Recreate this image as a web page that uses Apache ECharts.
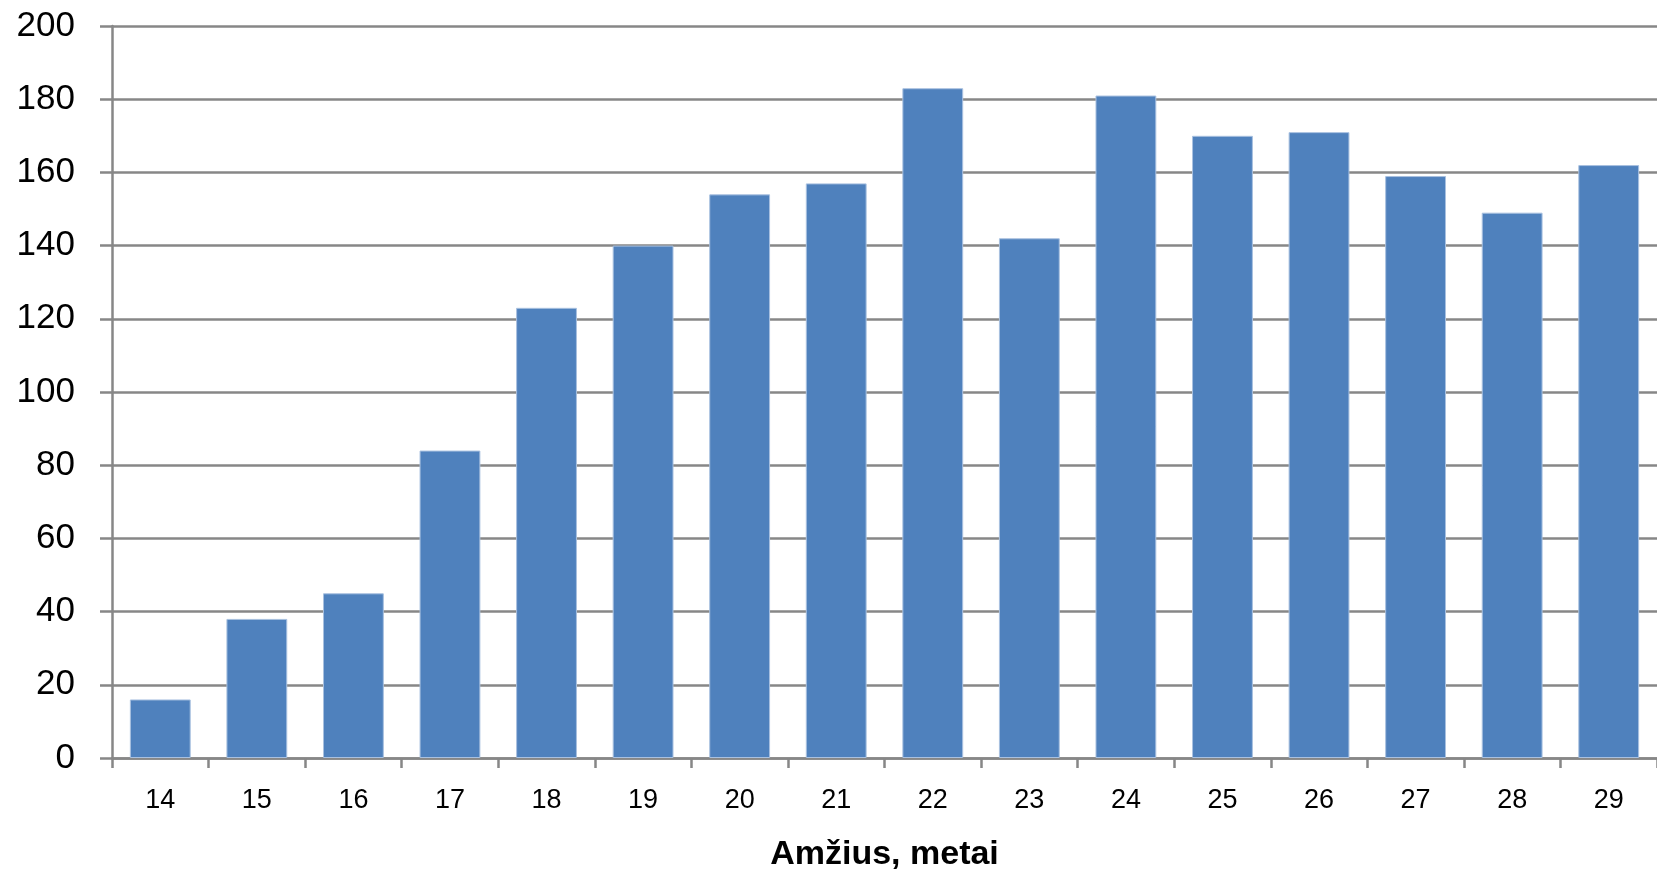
<!DOCTYPE html>
<html><head><meta charset="utf-8">
<script src="https://cdn.jsdelivr.net/npm/echarts@6/dist/echarts.min.js"></script>
<style>html,body{margin:0;padding:0;background:#fff}#c{width:1657px;height:877px}</style>
</head><body><div id="c"></div>
<script>
const categories = ['14','15','16','17','18','19','20','21','22','23','24','25','26','27','28','29'];
const values = [16,38,45,84,123,140,154,157,183,142,181,170,171,159,149,162];
const yTicks = {min:0, max:200, interval:20};
const xTitle = 'Amžius, metai';

const chart = echarts.init(document.getElementById('c'));
const gray = '#878787';
chart.setOption({
  animation:false,
  grid:{left:112, top:26, width:1552, height:735},
  xAxis:{
    type:'category', data:categories, boundaryGap:true,
    name:xTitle, nameLocation:'middle', nameGap:80,
    nameTextStyle:{fontFamily:'Liberation Sans', fontWeight:'bold', fontSize:34, color:'#000'},
    axisLine:{lineStyle:{color:gray, width:2.5}},
    axisTick:{show:true, length:10, lineStyle:{color:gray, width:2.5}},
    axisLabel:{fontFamily:'Liberation Sans', fontSize:27, color:'#000', margin:29}
  },
  yAxis:{
    type:'value', min:yTicks.min, max:yTicks.max, interval:yTicks.interval,
    axisLine:{show:true, lineStyle:{color:gray, width:2.5}},
    axisTick:{show:true, length:12, lineStyle:{color:gray, width:2.5}},
    splitLine:{show:true, lineStyle:{color:gray, width:2.5}},
    axisLabel:{fontFamily:'Liberation Sans', fontSize:35, color:'#000', margin:37}
  },
  series:[{
    type:'bar', data:values, barWidth:'63%',
    itemStyle:{color:'#4F81BD', borderColor:'#a9c1e0', borderWidth:1}
  }]
});
</script></body></html>
